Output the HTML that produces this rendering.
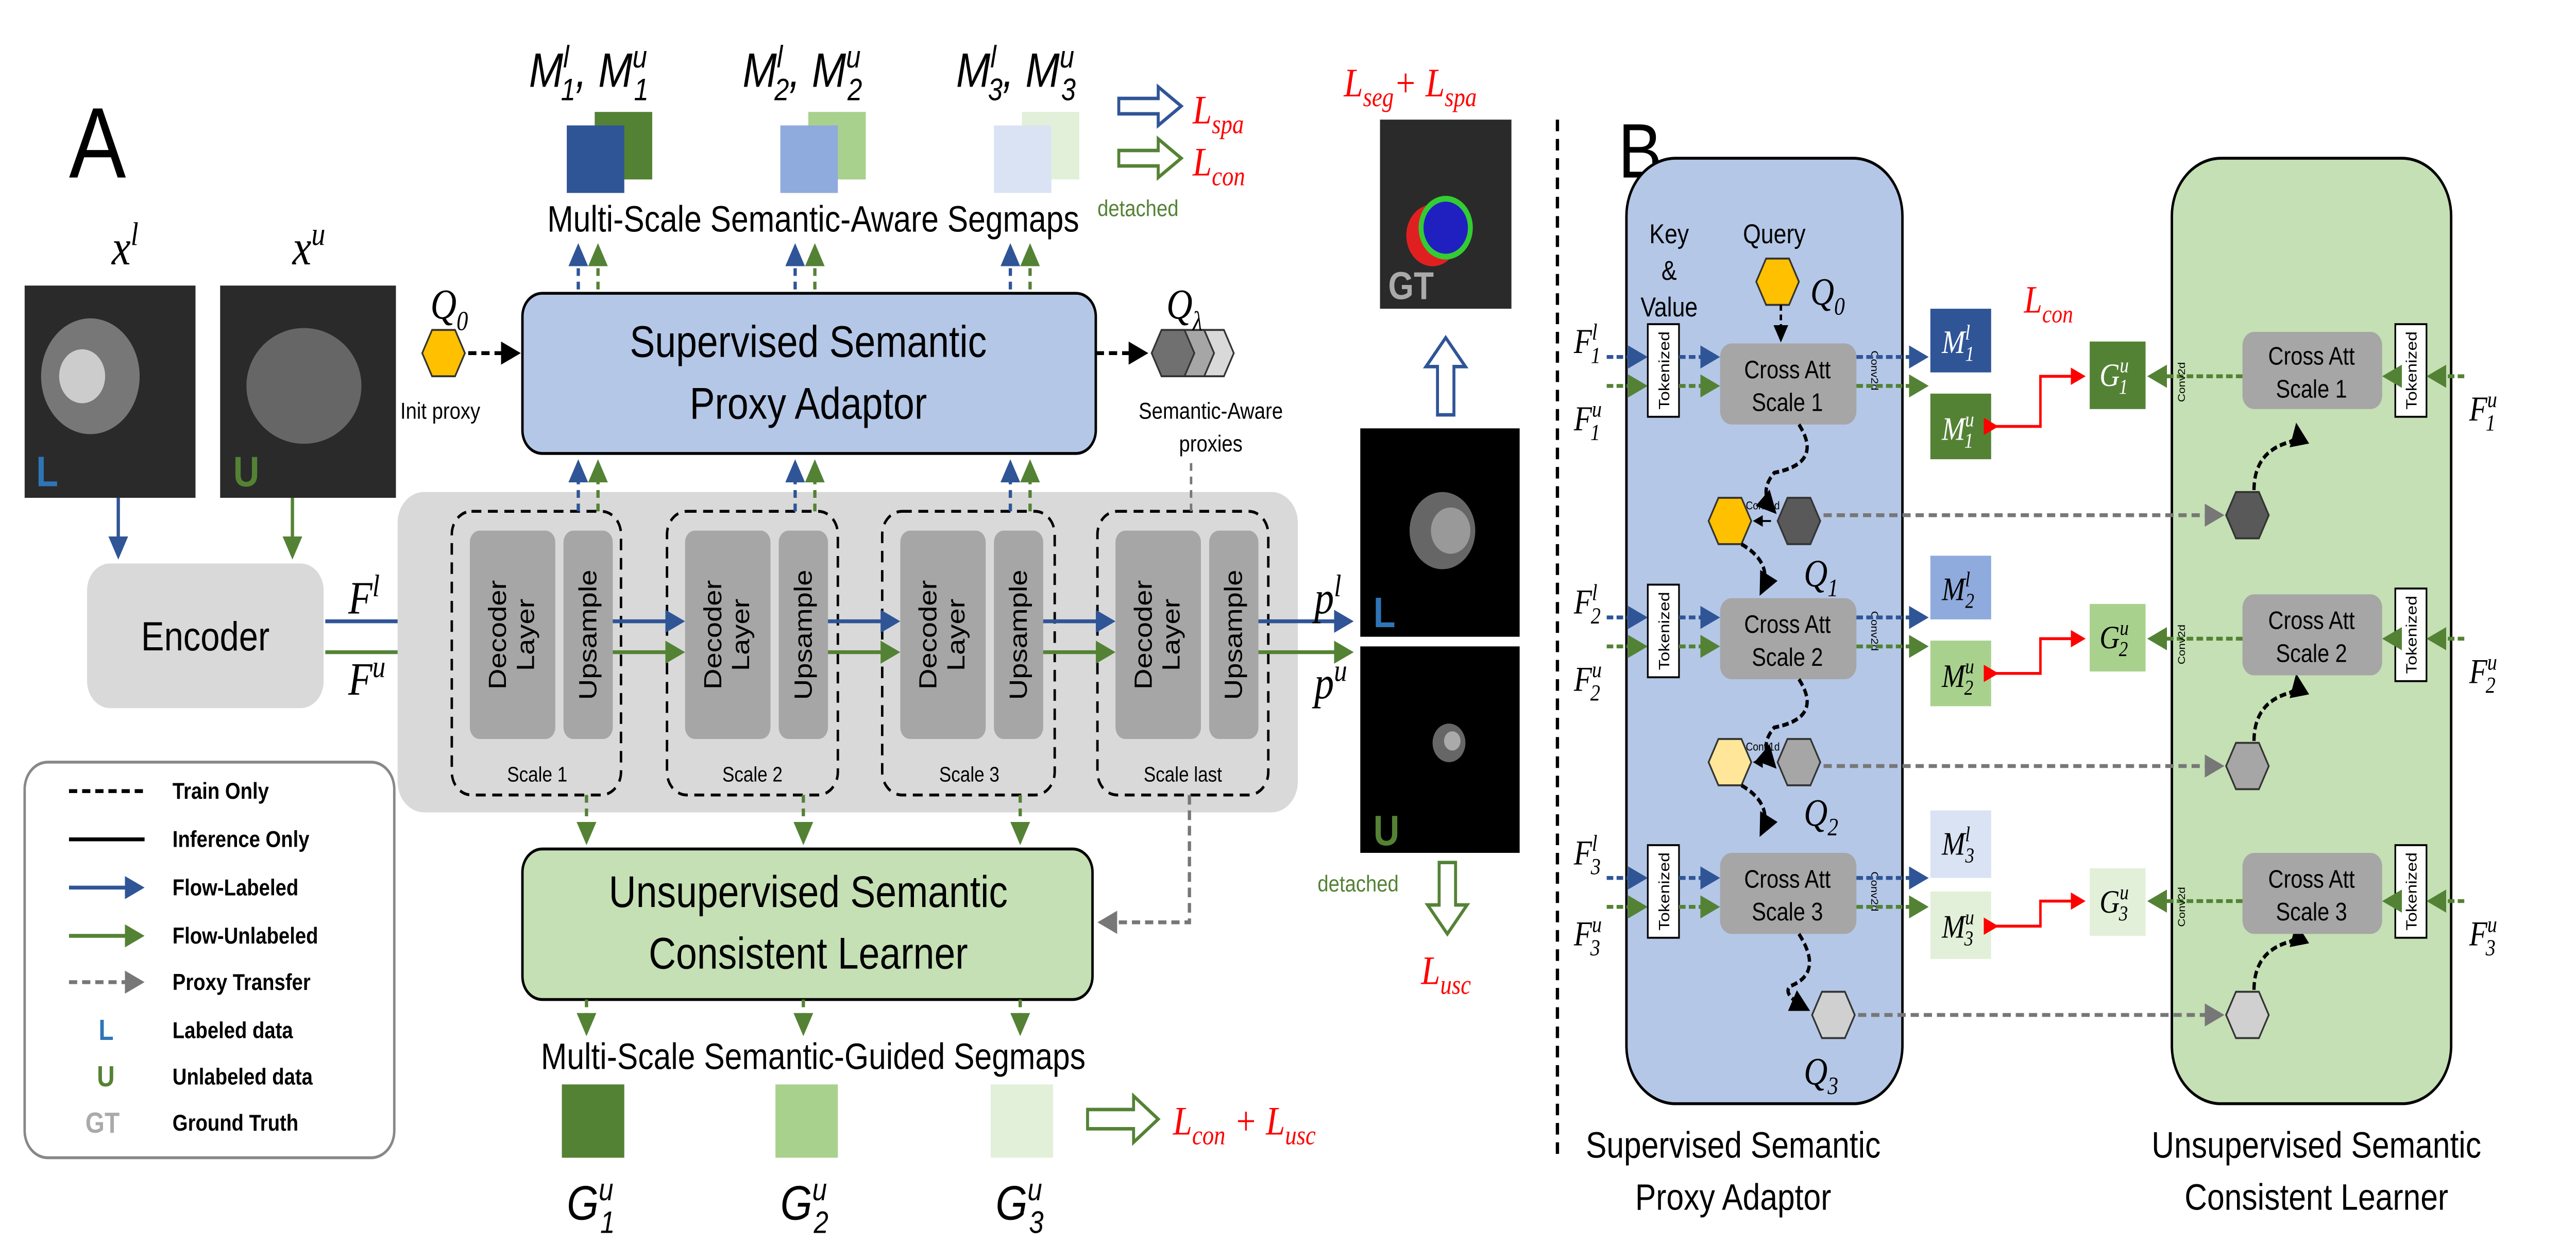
<!DOCTYPE html>
<html><head><meta charset="utf-8"><style>
html,body{margin:0;padding:0;background:#fff;width:100vw;height:100vh;overflow:hidden}
svg{display:block;position:absolute;left:0;top:0;width:100vw;height:100vh}
text{font-family:"Liberation Sans",sans-serif}
.it{font-family:"Liberation Serif",serif;font-style:italic}
</style></head><body>
<svg viewBox="0 0 1568 653" preserveAspectRatio="none" xmlns="http://www.w3.org/2000/svg">
<defs>
<marker id="mb" markerWidth="6" markerHeight="6" refX="5" refY="3" orient="auto"><path d="M0,0L6,3L0,6z" fill="#2f5597"/></marker>
<marker id="mg" markerWidth="6" markerHeight="6" refX="5" refY="3" orient="auto"><path d="M0,0L6,3L0,6z" fill="#548235"/></marker>
<marker id="mk" markerWidth="6" markerHeight="6" refX="5" refY="3" orient="auto"><path d="M0,0L6,3L0,6z" fill="#000"/></marker>
<marker id="mr" markerWidth="6" markerHeight="6" refX="5" refY="3" orient="auto"><path d="M0,0L6,3L0,6z" fill="#f00"/></marker>
<marker id="my" markerWidth="6" markerHeight="6" refX="5" refY="3" orient="auto"><path d="M0,0L6,3L0,6z" fill="#777"/></marker>
<polygon id="hex" points="-13,0 -7,-12 7,-12 13,0 7,12 -7,12" stroke="#333" stroke-width="1"/>
</defs>

<!-- ===== Panel A ===== -->
<text x="42" y="92" font-size="52">A</text>
<text x="68" y="137" font-size="26" class="it">x<tspan dy="-10" font-size="17">l</tspan></text>
<text x="178" y="137" font-size="26" class="it">x<tspan dy="-10" font-size="17">u</tspan></text>
<rect x="15" y="148" width="104" height="110" fill="#2a2a2a"/>
<ellipse cx="55" cy="195" rx="30" ry="30" fill="#777"/><circle cx="50" cy="195" r="14" fill="#ccc"/>
<text x="22" y="252" font-size="22" font-weight="bold" fill="#2e75b6">L</text>
<rect x="134" y="148" width="107" height="110" fill="#2a2a2a"/>
<ellipse cx="185" cy="200" rx="35" ry="30" fill="#666"/>
<text x="142" y="252" font-size="22" font-weight="bold" fill="#548235">U</text>
<line x1="72" y1="258" x2="72" y2="288" stroke="#2f5597" stroke-width="2" marker-end="url(#mb)"/>
<line x1="178" y1="258" x2="178" y2="288" stroke="#548235" stroke-width="2" marker-end="url(#mg)"/>
<rect x="53" y="292" width="144" height="75" rx="14" fill="#d9d9d9"/>
<text x="125" y="337" font-size="21" text-anchor="middle">Encoder</text>
<text x="212" y="318" font-size="24" class="it">F<tspan dy="-9" font-size="16">l</tspan></text>
<text x="212" y="360" font-size="24" class="it">F<tspan dy="-9" font-size="16">u</tspan></text>
<line x1="198" y1="322" x2="272" y2="322" stroke="#2f5597" stroke-width="2" marker-end="url(#mb)"/>
<line x1="198" y1="338" x2="272" y2="338" stroke="#548235" stroke-width="2" marker-end="url(#mg)"/>

<rect x="242" y="255" width="548" height="166" rx="16" fill="#d9d9d9"/>
<g font-size="15" text-anchor="middle">
<rect x="275" y="265" width="103" height="147" rx="12" fill="none" stroke="#000" stroke-dasharray="6,4" stroke-width="1.5"/>
<rect x="286" y="275" width="52" height="108" rx="6" fill="#a6a6a6"/><rect x="343" y="275" width="30" height="108" rx="6" fill="#a6a6a6"/>
<text transform="translate(308,329) rotate(-90)">Decoder</text><text transform="translate(325,329) rotate(-90)">Layer</text><text transform="translate(363,329) rotate(-90)">Upsample</text>
<text x="327" y="405" font-size="11">Scale 1</text>
<rect x="406" y="265" width="104" height="147" rx="12" fill="none" stroke="#000" stroke-dasharray="6,4" stroke-width="1.5"/>
<rect x="417" y="275" width="52" height="108" rx="6" fill="#a6a6a6"/><rect x="474" y="275" width="30" height="108" rx="6" fill="#a6a6a6"/>
<text transform="translate(439,329) rotate(-90)">Decoder</text><text transform="translate(456,329) rotate(-90)">Layer</text><text transform="translate(494,329) rotate(-90)">Upsample</text>
<text x="458" y="405" font-size="11">Scale 2</text>
<rect x="537" y="265" width="105" height="147" rx="12" fill="none" stroke="#000" stroke-dasharray="6,4" stroke-width="1.5"/>
<rect x="548" y="275" width="52" height="108" rx="6" fill="#a6a6a6"/><rect x="605" y="275" width="30" height="108" rx="6" fill="#a6a6a6"/>
<text transform="translate(570,329) rotate(-90)">Decoder</text><text transform="translate(587,329) rotate(-90)">Layer</text><text transform="translate(625,329) rotate(-90)">Upsample</text>
<text x="590" y="405" font-size="11">Scale 3</text>
<rect x="668" y="265" width="104" height="147" rx="12" fill="none" stroke="#000" stroke-dasharray="6,4" stroke-width="1.5"/>
<rect x="679" y="275" width="52" height="108" rx="6" fill="#a6a6a6"/><rect x="736" y="275" width="30" height="108" rx="6" fill="#a6a6a6"/>
<text transform="translate(701,329) rotate(-90)">Decoder</text><text transform="translate(718,329) rotate(-90)">Layer</text><text transform="translate(756,329) rotate(-90)">Upsample</text>
<text x="720" y="405" font-size="11">Scale last</text>
</g>
<g stroke-width="2">
<line x1="373" y1="322" x2="415" y2="322" stroke="#2f5597" marker-end="url(#mb)"/><line x1="373" y1="338" x2="415" y2="338" stroke="#548235" marker-end="url(#mg)"/>
<line x1="504" y1="322" x2="546" y2="322" stroke="#2f5597" marker-end="url(#mb)"/><line x1="504" y1="338" x2="546" y2="338" stroke="#548235" marker-end="url(#mg)"/>
<line x1="635" y1="322" x2="677" y2="322" stroke="#2f5597" marker-end="url(#mb)"/><line x1="635" y1="338" x2="677" y2="338" stroke="#548235" marker-end="url(#mg)"/>
<line x1="766" y1="322" x2="822" y2="322" stroke="#2f5597" marker-end="url(#mb)"/><line x1="766" y1="338" x2="822" y2="338" stroke="#548235" marker-end="url(#mg)"/>
</g>
<text x="800" y="318" font-size="24" class="it">p<tspan dy="-9" font-size="16">l</tspan></text>
<text x="800" y="362" font-size="24" class="it">p<tspan dy="-9" font-size="16">u</tspan></text>

<!-- adaptor -->
<rect x="318" y="152" width="349" height="83" rx="12" fill="#b4c7e7" stroke="#000" stroke-width="1.5"/>
<text x="492" y="185" font-size="23" text-anchor="middle">Supervised Semantic</text>
<text x="492" y="217" font-size="23" text-anchor="middle">Proxy Adaptor</text>
<use href="#hex" x="270" y="183" fill="#ffc000"/>
<text x="262" y="165" font-size="22" class="it">Q<tspan dy="6" font-size="14">0</tspan></text>
<text x="268" y="217" font-size="12" text-anchor="middle">Init proxy</text>
<line x1="285" y1="183" x2="315" y2="183" stroke="#000" stroke-width="2" stroke-dasharray="5,3" marker-end="url(#mk)"/>
<line x1="667" y1="183" x2="697" y2="183" stroke="#000" stroke-width="2" stroke-dasharray="5,3" marker-end="url(#mk)"/>
<use href="#hex" x="738" y="183" fill="#d9d9d9"/><use href="#hex" x="726" y="183" fill="#a6a6a6"/><use href="#hex" x="714" y="183" fill="#707070"/>
<text x="710" y="165" font-size="22" class="it">Q<tspan dy="6" font-size="14">λ</tspan></text>
<text x="737" y="217" font-size="12" text-anchor="middle">Semantic-Aware</text>
<text x="737" y="234" font-size="12" text-anchor="middle">proxies</text>
<line x1="725" y1="240" x2="725" y2="265" stroke="#777" stroke-width="1.5" stroke-dasharray="4,3"/>
<g stroke-width="2" stroke-dasharray="4,3">
<line x1="352" y1="265" x2="352" y2="240" stroke="#2f5597" marker-end="url(#mb)"/><line x1="364" y1="265" x2="364" y2="240" stroke="#548235" marker-end="url(#mg)"/>
<line x1="484" y1="265" x2="484" y2="240" stroke="#2f5597" marker-end="url(#mb)"/><line x1="496" y1="265" x2="496" y2="240" stroke="#548235" marker-end="url(#mg)"/>
<line x1="615" y1="265" x2="615" y2="240" stroke="#2f5597" marker-end="url(#mb)"/><line x1="627" y1="265" x2="627" y2="240" stroke="#548235" marker-end="url(#mg)"/>
<line x1="352" y1="150" x2="352" y2="128" stroke="#2f5597" marker-end="url(#mb)"/><line x1="364" y1="150" x2="364" y2="128" stroke="#548235" marker-end="url(#mg)"/>
<line x1="484" y1="150" x2="484" y2="128" stroke="#2f5597" marker-end="url(#mb)"/><line x1="496" y1="150" x2="496" y2="128" stroke="#548235" marker-end="url(#mg)"/>
<line x1="615" y1="150" x2="615" y2="128" stroke="#2f5597" marker-end="url(#mb)"/><line x1="627" y1="150" x2="627" y2="128" stroke="#548235" marker-end="url(#mg)"/>
</g>
<text x="495" y="120" font-size="19" text-anchor="middle">Multi-Scale Semantic-Aware Segmaps</text>
<rect x="362" y="58" width="35" height="35" fill="#548235"/><rect x="345" y="65" width="35" height="35" fill="#2f5597"/>
<rect x="492" y="58" width="35" height="35" fill="#a9d18e"/><rect x="475" y="65" width="35" height="35" fill="#8faadc"/>
<rect x="622" y="58" width="35" height="35" fill="#e2f0d9"/><rect x="605" y="65" width="35" height="35" fill="#dae3f3"/>
<g font-size="25" class="it">
<text x="322" y="45">M<tspan dy="-10" font-size="16">l</tspan><tspan dy="17" dx="-5" font-size="16">1</tspan><tspan dy="-7">, M</tspan><tspan dy="-10" font-size="16">u</tspan><tspan dy="17" dx="-8" font-size="16">1</tspan></text>
<text x="452" y="45">M<tspan dy="-10" font-size="16">l</tspan><tspan dy="17" dx="-5" font-size="16">2</tspan><tspan dy="-7">, M</tspan><tspan dy="-10" font-size="16">u</tspan><tspan dy="17" dx="-8" font-size="16">2</tspan></text>
<text x="582" y="45">M<tspan dy="-10" font-size="16">l</tspan><tspan dy="17" dx="-5" font-size="16">3</tspan><tspan dy="-7">, M</tspan><tspan dy="-10" font-size="16">u</tspan><tspan dy="17" dx="-8" font-size="16">3</tspan></text>
</g>
<path d="M681,51 h24 v-6 l14,10 -14,10 v-6 h-24z" fill="#fff" stroke="#2f5597" stroke-width="1.8"/>
<path d="M681,78 h24 v-6 l14,10 -14,10 v-6 h-24z" fill="#fff" stroke="#548235" stroke-width="1.8"/>
<text x="726" y="64" font-size="21" fill="#f00" class="it">L<tspan dy="5" font-size="14">spa</tspan></text>
<text x="726" y="91" font-size="21" fill="#f00" class="it">L<tspan dy="5" font-size="14">con</tspan></text>
<text x="668" y="112" font-size="12" fill="#548235">detached</text>

<!-- unsupervised learner -->
<rect x="318" y="440" width="347" height="78" rx="12" fill="#c5e0b4" stroke="#000" stroke-width="1.5"/>
<text x="492" y="470" font-size="23" text-anchor="middle">Unsupervised Semantic</text>
<text x="492" y="502" font-size="23" text-anchor="middle">Consistent Learner</text>
<g stroke="#548235" stroke-width="2" stroke-dasharray="4,3">
<line x1="357" y1="412" x2="357" y2="436" marker-end="url(#mg)"/><line x1="489" y1="412" x2="489" y2="436" marker-end="url(#mg)"/><line x1="621" y1="412" x2="621" y2="436" marker-end="url(#mg)"/>
<line x1="357" y1="518" x2="357" y2="535" marker-end="url(#mg)"/><line x1="489" y1="518" x2="489" y2="535" marker-end="url(#mg)"/><line x1="621" y1="518" x2="621" y2="535" marker-end="url(#mg)"/>
</g>
<path d="M724,412 V478 H670" fill="none" stroke="#777" stroke-width="2" stroke-dasharray="5,3" marker-end="url(#my)"/>
<text x="495" y="554" font-size="19" text-anchor="middle">Multi-Scale Semantic-Guided Segmaps</text>
<rect x="342" y="562" width="38" height="38" fill="#548235"/>
<rect x="472" y="562" width="38" height="38" fill="#a9d18e"/>
<rect x="603" y="562" width="38" height="38" fill="#e2f0d9"/>
<g font-size="25" class="it">
<text x="345" y="632">G<tspan dy="-10" font-size="16">u</tspan><tspan dy="17" dx="-8" font-size="16">1</tspan></text>
<text x="475" y="632">G<tspan dy="-10" font-size="16">u</tspan><tspan dy="17" dx="-8" font-size="16">2</tspan></text>
<text x="606" y="632">G<tspan dy="-10" font-size="16">u</tspan><tspan dy="17" dx="-8" font-size="16">3</tspan></text>
</g>
<path d="M662,575 h28 v-7 l15,12 -15,12 v-7 h-28z" fill="#fff" stroke="#548235" stroke-width="1.8"/>
<text x="714" y="588" font-size="21" fill="#f00" class="it">L<tspan dy="5" font-size="14">con</tspan><tspan dy="-5"> + L</tspan><tspan dy="5" font-size="14">usc</tspan></text>

<!-- legend -->
<rect x="15" y="395" width="225" height="205" rx="14" fill="#fff" stroke="#888" stroke-width="1.5"/>
<g font-size="12" font-weight="bold">
<line x1="42" y1="410" x2="88" y2="410" stroke="#000" stroke-width="2" stroke-dasharray="5,3"/><text x="105" y="414">Train Only</text>
<line x1="42" y1="435" x2="88" y2="435" stroke="#000" stroke-width="2"/><text x="105" y="439">Inference Only</text>
<line x1="42" y1="460" x2="86" y2="460" stroke="#2f5597" stroke-width="2" marker-end="url(#mb)"/><text x="105" y="464">Flow-Labeled</text>
<line x1="42" y1="485" x2="86" y2="485" stroke="#548235" stroke-width="2" marker-end="url(#mg)"/><text x="105" y="489">Flow-Unlabeled</text>
<line x1="42" y1="509" x2="86" y2="509" stroke="#777" stroke-width="2" stroke-dasharray="5,3" marker-end="url(#my)"/><text x="105" y="513">Proxy Transfer</text>
<text x="60" y="539" font-size="15" fill="#2e75b6">L</text><text x="105" y="538">Labeled data</text>
<text x="59" y="563" font-size="15" fill="#548235">U</text><text x="105" y="562">Unlabeled data</text>
<text x="52" y="587" font-size="15" fill="#aaa">GT</text><text x="105" y="586">Ground Truth</text>
</g>

<!-- middle images -->
<text x="818" y="50" font-size="21" fill="#f00" class="it">L<tspan dy="5" font-size="14">seg</tspan><tspan dy="-5">+ L</tspan><tspan dy="5" font-size="14">spa</tspan></text>
<rect x="840" y="62" width="80" height="98" fill="#2a2a2a"/>
<circle cx="872" cy="122" r="16" fill="#e02020"/><circle cx="880" cy="118" r="15" fill="#2020c0" stroke="#3c3" stroke-width="3"/>
<text x="845" y="155" font-size="20" font-weight="bold" fill="#aaa">GT</text>
<path d="M875,215 v-25 h-7 l12,-15 12,15 h-7 v25z" fill="#fff" stroke="#2f5597" stroke-width="1.8"/>
<rect x="828" y="222" width="97" height="108" fill="#000"/>
<circle cx="878" cy="275" r="20" fill="#666"/><circle cx="883" cy="275" r="12" fill="#999"/>
<text x="836" y="325" font-size="22" font-weight="bold" fill="#2e75b6">L</text>
<rect x="828" y="335" width="97" height="107" fill="#000"/>
<circle cx="882" cy="385" r="10" fill="#666"/><circle cx="884" cy="384" r="5" fill="#aaa"/>
<text x="836" y="438" font-size="22" font-weight="bold" fill="#548235">U</text>
<text x="802" y="462" font-size="12" fill="#548235">detached</text>
<path d="M876,447 v22 h-7 l12,15 12,-15 h-7 v-22z" fill="#fff" stroke="#548235" stroke-width="1.8"/>
<text x="865" y="510" font-size="21" fill="#f00" class="it">L<tspan dy="5" font-size="14">usc</tspan></text>
<line x1="948" y1="62" x2="948" y2="600" stroke="#000" stroke-width="2" stroke-dasharray="6,4"/>

<!-- ===== Panel B ===== -->
<text x="985" y="92" font-size="40">B</text>
<rect x="990" y="82" width="168" height="490" rx="30" fill="#b4c7e7" stroke="#000" stroke-width="1.5"/>
<rect x="1322" y="82" width="170" height="490" rx="30" fill="#c5e0b4" stroke="#000" stroke-width="1.5"/>
<text x="1055" y="600" font-size="19" text-anchor="middle">Supervised Semantic</text>
<text x="1055" y="627" font-size="19" text-anchor="middle">Proxy Adaptor</text>
<text x="1410" y="600" font-size="19" text-anchor="middle">Unsupervised Semantic</text>
<text x="1410" y="627" font-size="19" text-anchor="middle">Consistent Learner</text>
<text x="1016" y="126" font-size="14" text-anchor="middle">Key</text>
<text x="1016" y="145" font-size="14" text-anchor="middle">&amp;</text>
<text x="1016" y="164" font-size="14" text-anchor="middle">Value</text>
<text x="1080" y="126" font-size="14" text-anchor="middle">Query</text>
<use href="#hex" x="1082" y="146" fill="#ffc000"/>
<text x="1102" y="158" font-size="20" class="it">Q<tspan dy="5" font-size="13">0</tspan></text>
<line x1="1084" y1="158" x2="1084" y2="176" stroke="#000" stroke-width="1.5" stroke-dasharray="3,2" marker-end="url(#mk)"/>
<text x="1232" y="162" font-size="20" fill="#f00" class="it">L<tspan dy="5" font-size="13">con</tspan></text>

<g id="rows">
<!-- row 1 -->
<text x="958" y="183" font-size="18" class="it">F<tspan dy="-7" font-size="12">l</tspan><tspan dy="12" dx="-4" font-size="12">1</tspan></text>
<text x="958" y="223" font-size="18" class="it">F<tspan dy="-7" font-size="12">u</tspan><tspan dy="12" dx="-7" font-size="12">1</tspan></text>
<line x1="978" y1="185" x2="1001" y2="185" stroke="#2f5597" stroke-width="2" stroke-dasharray="4,2" marker-end="url(#mb)"/>
<line x1="978" y1="200" x2="1001" y2="200" stroke="#548235" stroke-width="2" stroke-dasharray="4,2" marker-end="url(#mg)"/>
<rect x="1003" y="168" width="19" height="48" fill="#fff" stroke="#000"/>
<text transform="translate(1016,192) rotate(-90)" font-size="9" text-anchor="middle">Tokenized</text>
<line x1="1022" y1="185" x2="1045" y2="185" stroke="#2f5597" stroke-width="2" stroke-dasharray="4,2" marker-end="url(#mb)"/>
<line x1="1022" y1="200" x2="1045" y2="200" stroke="#548235" stroke-width="2" stroke-dasharray="4,2" marker-end="url(#mg)"/>
<rect x="1047" y="178" width="83" height="42" rx="7" fill="#a6a6a6"/>
<text x="1088" y="196" font-size="13" text-anchor="middle">Cross Att</text><text x="1088" y="213" font-size="13" text-anchor="middle">Scale 1</text>
<text transform="translate(1139,192) rotate(90)" font-size="6" text-anchor="middle">Conv2d</text>
<line x1="1130" y1="185" x2="1172" y2="185" stroke="#2f5597" stroke-width="2" stroke-dasharray="4,2" marker-end="url(#mb)"/>
<line x1="1130" y1="200" x2="1172" y2="200" stroke="#548235" stroke-width="2" stroke-dasharray="4,2" marker-end="url(#mg)"/>
<path d="M1095,220 q15,20 -15,25 q-10,10 0,20" fill="none" stroke="#000" stroke-width="2" stroke-dasharray="4,2" marker-end="url(#mk)"/>
<use href="#hex" x="1053" y="270" fill="#ffc000"/>
<line x1="1078" y1="270" x2="1068" y2="270" stroke="#000" stroke-width="1" marker-end="url(#mk)"/>
<text x="1073" y="264" font-size="6" text-anchor="middle">Conv1d</text>
<use href="#hex" x="1095" y="270" fill="#595959"/>
<text x="1098" y="304" font-size="20" class="it">Q<tspan dy="5" font-size="13">1</tspan></text>
<rect x="1175" y="160" width="37" height="33" fill="#2f5597"/>
<rect x="1175" y="204" width="37" height="34" fill="#548235"/>
<text x="1182" y="183" font-size="17" fill="#fff" class="it">M<tspan dy="-7" font-size="11">l</tspan><tspan dy="11" dx="-3" font-size="11">1</tspan></text>
<text x="1182" y="228" font-size="17" fill="#fff" class="it">M<tspan dy="-7" font-size="11">u</tspan><tspan dy="11" dx="-6" font-size="11">1</tspan></text>
<rect x="1272" y="177" width="34" height="35" fill="#548235"/>
<text x="1278" y="200" font-size="17" fill="#fff" class="it">G<tspan dy="-7" font-size="11">u</tspan><tspan dy="11" dx="-6" font-size="11">1</tspan></text>
<path d="M1215,221 H1242 V195 H1268" fill="none" stroke="#f00" stroke-width="1.5" marker-end="url(#mr)" marker-start="url(#mr)"/>

<!-- row 2 -->
<text x="958" y="318" font-size="18" class="it">F<tspan dy="-7" font-size="12">l</tspan><tspan dy="12" dx="-4" font-size="12">2</tspan></text>
<text x="958" y="358" font-size="18" class="it">F<tspan dy="-7" font-size="12">u</tspan><tspan dy="12" dx="-7" font-size="12">2</tspan></text>
<line x1="978" y1="320" x2="1001" y2="320" stroke="#2f5597" stroke-width="2" stroke-dasharray="4,2" marker-end="url(#mb)"/>
<line x1="978" y1="335" x2="1001" y2="335" stroke="#548235" stroke-width="2" stroke-dasharray="4,2" marker-end="url(#mg)"/>
<rect x="1003" y="303" width="19" height="48" fill="#fff" stroke="#000"/>
<text transform="translate(1016,327) rotate(-90)" font-size="9" text-anchor="middle">Tokenized</text>
<line x1="1022" y1="320" x2="1045" y2="320" stroke="#2f5597" stroke-width="2" stroke-dasharray="4,2" marker-end="url(#mb)"/>
<line x1="1022" y1="335" x2="1045" y2="335" stroke="#548235" stroke-width="2" stroke-dasharray="4,2" marker-end="url(#mg)"/>
<rect x="1047" y="310" width="83" height="42" rx="7" fill="#a6a6a6"/>
<text x="1088" y="328" font-size="13" text-anchor="middle">Cross Att</text><text x="1088" y="345" font-size="13" text-anchor="middle">Scale 2</text>
<text transform="translate(1139,327) rotate(90)" font-size="6" text-anchor="middle">Conv2d</text>
<line x1="1130" y1="320" x2="1172" y2="320" stroke="#2f5597" stroke-width="2" stroke-dasharray="4,2" marker-end="url(#mb)"/>
<line x1="1130" y1="335" x2="1172" y2="335" stroke="#548235" stroke-width="2" stroke-dasharray="4,2" marker-end="url(#mg)"/>
<path d="M1060,282 q20,10 12,25" fill="none" stroke="#000" stroke-width="2" stroke-dasharray="4,2" marker-end="url(#mk)"/>
<path d="M1095,352 q15,20 -15,25 q-10,10 0,20" fill="none" stroke="#000" stroke-width="2" stroke-dasharray="4,2" marker-end="url(#mk)"/>
<use href="#hex" x="1053" y="395" fill="#ffe699"/>
<line x1="1078" y1="395" x2="1068" y2="395" stroke="#000" stroke-width="1" marker-end="url(#mk)"/>
<text x="1073" y="389" font-size="6" text-anchor="middle">Conv1d</text>
<use href="#hex" x="1095" y="395" fill="#a6a6a6"/>
<text x="1098" y="428" font-size="20" class="it">Q<tspan dy="5" font-size="13">2</tspan></text>
<rect x="1175" y="288" width="37" height="33" fill="#8faadc"/>
<rect x="1175" y="332" width="37" height="34" fill="#a9d18e"/>
<text x="1182" y="311" font-size="17" class="it">M<tspan dy="-7" font-size="11">l</tspan><tspan dy="11" dx="-3" font-size="11">2</tspan></text>
<text x="1182" y="356" font-size="17" class="it">M<tspan dy="-7" font-size="11">u</tspan><tspan dy="11" dx="-6" font-size="11">2</tspan></text>
<rect x="1272" y="313" width="34" height="35" fill="#a9d18e"/>
<text x="1278" y="336" font-size="17" class="it">G<tspan dy="-7" font-size="11">u</tspan><tspan dy="11" dx="-6" font-size="11">2</tspan></text>
<path d="M1215,349 H1242 V331 H1268" fill="none" stroke="#f00" stroke-width="1.5" marker-end="url(#mr)" marker-start="url(#mr)"/>

<!-- row 3 -->
<text x="958" y="448" font-size="18" class="it">F<tspan dy="-7" font-size="12">l</tspan><tspan dy="12" dx="-4" font-size="12">3</tspan></text>
<text x="958" y="490" font-size="18" class="it">F<tspan dy="-7" font-size="12">u</tspan><tspan dy="12" dx="-7" font-size="12">3</tspan></text>
<line x1="978" y1="455" x2="1001" y2="455" stroke="#2f5597" stroke-width="2" stroke-dasharray="4,2" marker-end="url(#mb)"/>
<line x1="978" y1="470" x2="1001" y2="470" stroke="#548235" stroke-width="2" stroke-dasharray="4,2" marker-end="url(#mg)"/>
<rect x="1003" y="438" width="19" height="48" fill="#fff" stroke="#000"/>
<text transform="translate(1016,462) rotate(-90)" font-size="9" text-anchor="middle">Tokenized</text>
<line x1="1022" y1="455" x2="1045" y2="455" stroke="#2f5597" stroke-width="2" stroke-dasharray="4,2" marker-end="url(#mb)"/>
<line x1="1022" y1="470" x2="1045" y2="470" stroke="#548235" stroke-width="2" stroke-dasharray="4,2" marker-end="url(#mg)"/>
<rect x="1047" y="442" width="83" height="42" rx="7" fill="#a6a6a6"/>
<text x="1088" y="460" font-size="13" text-anchor="middle">Cross Att</text><text x="1088" y="477" font-size="13" text-anchor="middle">Scale 3</text>
<text transform="translate(1139,462) rotate(90)" font-size="6" text-anchor="middle">Conv2d</text>
<line x1="1130" y1="455" x2="1172" y2="455" stroke="#2f5597" stroke-width="2" stroke-dasharray="4,2" marker-end="url(#mb)"/>
<line x1="1130" y1="470" x2="1172" y2="470" stroke="#548235" stroke-width="2" stroke-dasharray="4,2" marker-end="url(#mg)"/>
<path d="M1060,407 q20,10 12,25" fill="none" stroke="#000" stroke-width="2" stroke-dasharray="4,2" marker-end="url(#mk)"/>
<path d="M1095,484 q15,20 -5,27 q-6,4 10,12" fill="none" stroke="#000" stroke-width="2" stroke-dasharray="4,2" marker-end="url(#mk)"/>
<use href="#hex" x="1116" y="526" fill="#d0d0d0"/>
<text x="1098" y="562" font-size="20" class="it">Q<tspan dy="5" font-size="13">3</tspan></text>
<rect x="1175" y="420" width="37" height="35" fill="#dae3f3"/>
<rect x="1175" y="462" width="37" height="35" fill="#e2f0d9"/>
<text x="1182" y="443" font-size="17" class="it">M<tspan dy="-7" font-size="11">l</tspan><tspan dy="11" dx="-3" font-size="11">3</tspan></text>
<text x="1182" y="486" font-size="17" class="it">M<tspan dy="-7" font-size="11">u</tspan><tspan dy="11" dx="-6" font-size="11">3</tspan></text>
<rect x="1272" y="450" width="34" height="35" fill="#e2f0d9"/>
<text x="1278" y="473" font-size="17" class="it">G<tspan dy="-7" font-size="11">u</tspan><tspan dy="11" dx="-6" font-size="11">3</tspan></text>
<path d="M1215,480 H1242 V467 H1268" fill="none" stroke="#f00" stroke-width="1.5" marker-end="url(#mr)" marker-start="url(#mr)"/>
</g>

<!-- green side -->
<g>
<line x1="1110" y1="267" x2="1352" y2="267" stroke="#777" stroke-width="2" stroke-dasharray="5,3" marker-end="url(#my)"/>
<line x1="1110" y1="397" x2="1352" y2="397" stroke="#777" stroke-width="2" stroke-dasharray="5,3" marker-end="url(#my)"/>
<line x1="1131" y1="526" x2="1352" y2="526" stroke="#777" stroke-width="2" stroke-dasharray="5,3" marker-end="url(#my)"/>
<use href="#hex" x="1368" y="267" fill="#595959"/>
<use href="#hex" x="1368" y="397" fill="#a6a6a6"/>
<use href="#hex" x="1368" y="526" fill="#d0d0d0"/>
<path d="M1372,254 q0,-20 22,-25 q5,-2 4,-8" fill="none" stroke="#000" stroke-width="2" stroke-dasharray="4,2" marker-end="url(#mk)"/>
<path d="M1372,384 q0,-20 22,-25 q5,-2 4,-8" fill="none" stroke="#000" stroke-width="2" stroke-dasharray="4,2" marker-end="url(#mk)"/>
<path d="M1372,513 q0,-20 22,-25 q5,-2 4,-8" fill="none" stroke="#000" stroke-width="2" stroke-dasharray="4,2" marker-end="url(#mk)"/>
<rect x="1365" y="172" width="85" height="40" rx="7" fill="#a6a6a6"/>
<text x="1407" y="189" font-size="13" text-anchor="middle">Cross Att</text><text x="1407" y="206" font-size="13" text-anchor="middle">Scale 1</text>
<rect x="1365" y="308" width="85" height="42" rx="7" fill="#a6a6a6"/>
<text x="1407" y="326" font-size="13" text-anchor="middle">Cross Att</text><text x="1407" y="343" font-size="13" text-anchor="middle">Scale 2</text>
<rect x="1365" y="442" width="85" height="42" rx="7" fill="#a6a6a6"/>
<text x="1407" y="460" font-size="13" text-anchor="middle">Cross Att</text><text x="1407" y="477" font-size="13" text-anchor="middle">Scale 3</text>
<rect x="1458" y="168" width="19" height="48" fill="#fff" stroke="#000"/>
<text transform="translate(1471,192) rotate(-90)" font-size="9" text-anchor="middle">Tokenized</text>
<rect x="1458" y="305" width="19" height="48" fill="#fff" stroke="#000"/>
<text transform="translate(1471,329) rotate(-90)" font-size="9" text-anchor="middle">Tokenized</text>
<rect x="1458" y="438" width="19" height="48" fill="#fff" stroke="#000"/>
<text transform="translate(1471,462) rotate(-90)" font-size="9" text-anchor="middle">Tokenized</text>
<g stroke="#548235" stroke-width="2" stroke-dasharray="4,2">
<line x1="1500" y1="195" x2="1479" y2="195" marker-end="url(#mg)"/><line x1="1458" y1="195" x2="1452" y2="195" marker-end="url(#mg)"/><line x1="1365" y1="195" x2="1309" y2="195" marker-end="url(#mg)"/>
<line x1="1500" y1="331" x2="1479" y2="331" marker-end="url(#mg)"/><line x1="1458" y1="331" x2="1452" y2="331" marker-end="url(#mg)"/><line x1="1365" y1="331" x2="1309" y2="331" marker-end="url(#mg)"/>
<line x1="1500" y1="467" x2="1479" y2="467" marker-end="url(#mg)"/><line x1="1458" y1="467" x2="1452" y2="467" marker-end="url(#mg)"/><line x1="1365" y1="467" x2="1309" y2="467" marker-end="url(#mg)"/>
</g>
<text transform="translate(1330,198) rotate(-90)" font-size="6" text-anchor="middle">Conv2d</text>
<text transform="translate(1330,334) rotate(-90)" font-size="6" text-anchor="middle">Conv2d</text>
<text transform="translate(1330,470) rotate(-90)" font-size="6" text-anchor="middle">Conv2d</text>
<text x="1503" y="218" font-size="18" class="it">F<tspan dy="-7" font-size="12">u</tspan><tspan dy="12" dx="-7" font-size="12">1</tspan></text>
<text x="1503" y="354" font-size="18" class="it">F<tspan dy="-7" font-size="12">u</tspan><tspan dy="12" dx="-7" font-size="12">2</tspan></text>
<text x="1503" y="490" font-size="18" class="it">F<tspan dy="-7" font-size="12">u</tspan><tspan dy="12" dx="-7" font-size="12">3</tspan></text>
</g>
</svg>
</body></html>
